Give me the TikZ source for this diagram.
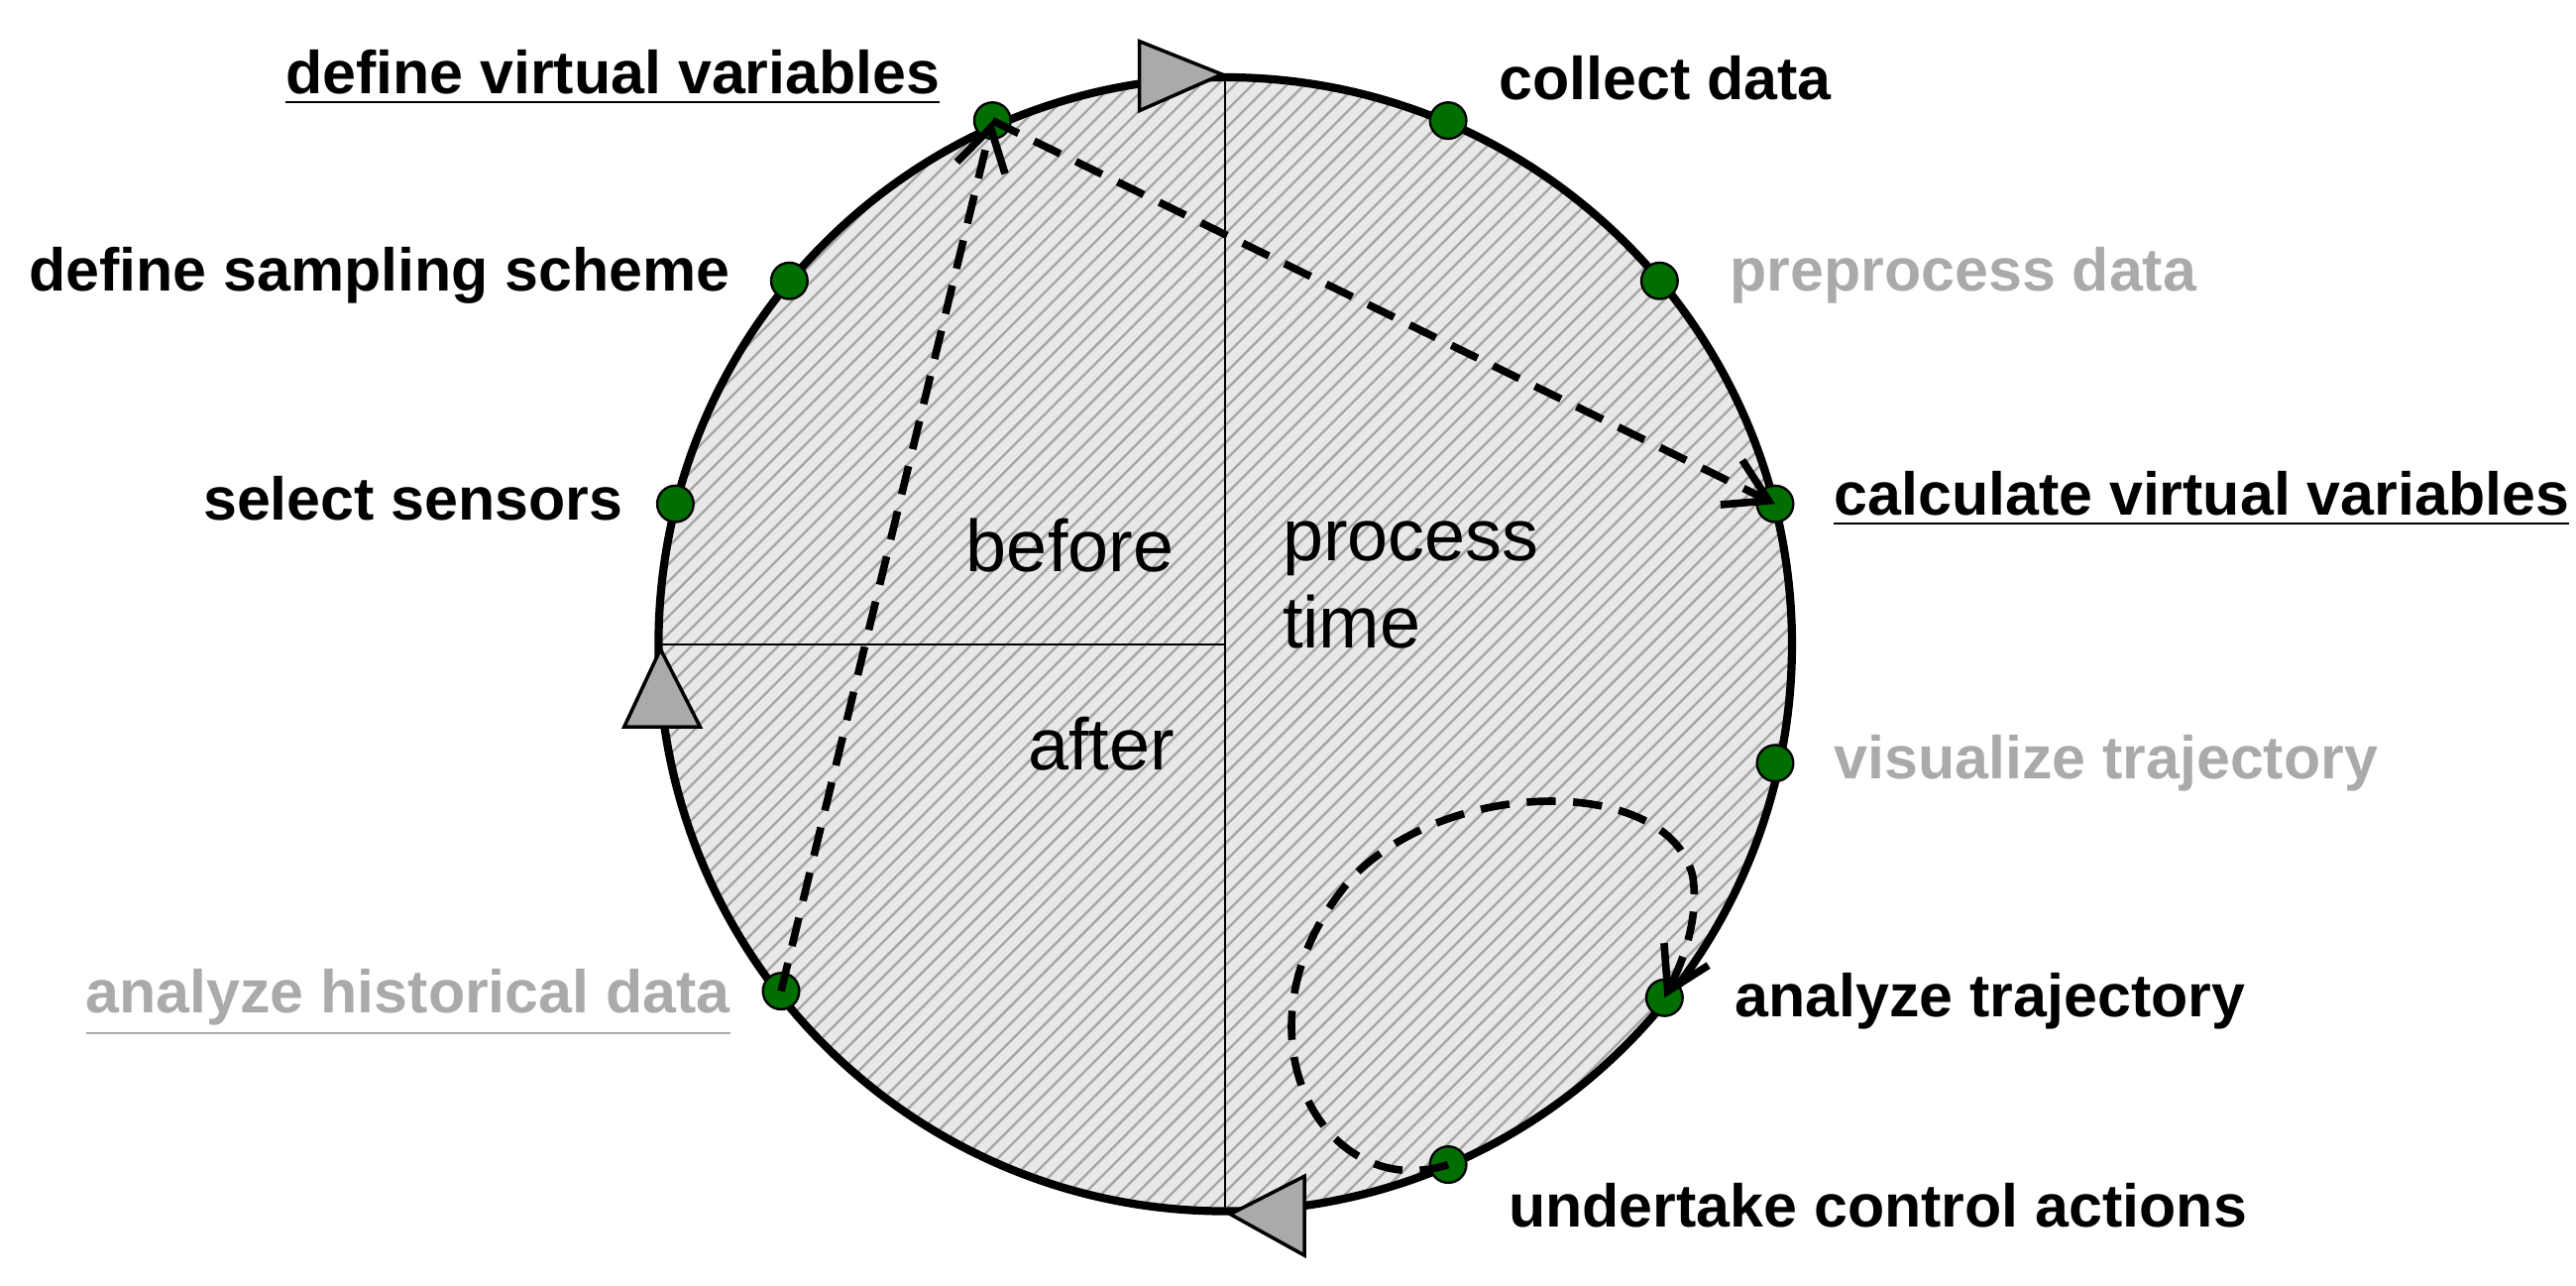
\documentclass[tikz,border=0pt]{standalone}
\usepackage{fontspec}
\setmainfont{Liberation Sans}
\usetikzlibrary{patterns,arrows.meta}
\definecolor{dotgreen}{RGB}{0,110,0}
\definecolor{lightgray}{RGB}{170,170,170}
\begin{document}
\begin{tikzpicture}[x=0.01cm,y=-0.01cm,
            dot/.style = {circle, draw=black, fill=dotgreen, inner sep=0pt, minimum size=0.22cm},
            lbl/.style = {font=\fontsize{10.4}{12}\selectfont\bfseries, inner sep=0pt},
            grey/.style = {lbl, text=lightgray},
            inner/.style = {font=\fontsize{12.6}{15}\selectfont, inner sep=0pt},
            tri/.style = {draw=black, fill=lightgray, line width=0.6pt},
            flow/.style = {dash pattern=on 5pt off 3pt, line width=1.3pt, -{Straight Barb[length=0.25cm,width=0.3cm]}}]
            \useasboundingbox (0,0) rectangle (1560,778);
            % the cycle
            \coordinate (c) at (742,390);
            \fill[gray!18] (c) circle (3.43cm);
            \fill[pattern=north east lines, pattern color=gray!70] (c) circle (3.43cm);
            \draw[line width=1.4pt] (c) circle (3.43cm);
            \coordinate (top) at (742,47);
            \coordinate (bot) at (742,733);
            \coordinate (left) at (399,390);
            \draw (top) -- (bot);
            \draw (left) -- (c);
            % direction markers
            \draw[tri] (690,25) -- (740,45) -- (690,67) -- cycle;
            \draw[tri] (400,393) -- (378,440) -- (424,440) -- cycle;
            \draw[tri] (745,735) -- (790,712) -- (790,760) -- cycle;
            \node[inner] (before) at (648,330) {before};
            \node[inner, align=left, anchor=west] (process) at (776,354) {process\\[0pt]time};
            \node[inner] (after) at (667,450) {after};
            % steps
            \node[dot] (dvv) at (601,73) {};
            \node[dot] (col) at (877,73) {};
            \node[dot] (pre) at (1005,170) {};
            \node[dot] (cvv) at (1075,305) {};
            \node[dot] (vis) at (1075,462) {};
            \node[dot] (atr) at (1008,604) {};
            \node[dot] (uca) at (877,705) {};
            \node[dot] (ahd) at (473,600) {};
            \node[dot] (sel) at (409,305) {};
            \node[dot] (sam) at (478,170) {};
            \node[lbl, anchor=east] at (570,47) {\underline{define virtual variables}};
            \node[lbl, anchor=west] at (907,47) {collect data};
            \node[grey, anchor=west] at (1047,167) {preprocess data};
            \node[lbl, anchor=west] at (1110,302) {\underline{calculate virtual variables}};
            \node[grey, anchor=west] at (1110,462) {visualize trajectory};
            \node[lbl, anchor=west] at (1050,606) {analyze trajectory};
            \node[lbl, anchor=west] at (913,730) {undertake control actions};
            \node[grey, anchor=east] at (443,607) {\underline{analyze historical data}};
            \node[lbl, anchor=east] at (378,302) {select sensors};
            \node[lbl, anchor=east] at (443,167) {define sampling scheme};
            % information flow
            \draw[flow] (ahd.center) -- (dvv.center);
            \draw[flow] (dvv.center) -- (cvv.center);
            \draw[flow] (uca.center) .. controls (800,730) and (740,620) .. (820,530)
                .. controls (880,470) and (1010,470) .. (1025,530)
                .. controls (1030,560) and (1015,590) .. (atr.center);
\end{tikzpicture}
\end{document}
